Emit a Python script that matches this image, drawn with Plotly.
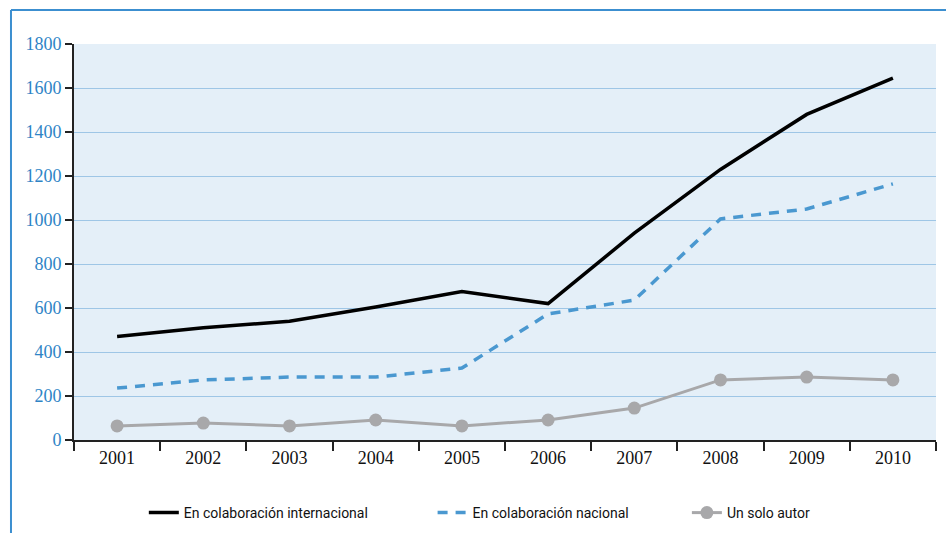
import plotly.graph_objects as go

years = ["2001", "2002", "2003", "2004", "2005", "2006", "2007", "2008", "2009", "2010"]
internacional = [470, 510, 540, 605, 675, 620, 940, 1230, 1480, 1645]
nacional = [236, 273, 286, 286, 327, 573, 636, 1005, 1050, 1164]
solo_autor = [64, 77, 64, 91, 64, 91, 145, 273, 286, 273]

names = ["En colaboración internacional", "En colaboración nacional", "Un solo autor"]
y_ticks = [0, 200, 400, 600, 800, 1000, 1200, 1400, 1600, 1800]

fig = go.Figure()
fig.add_trace(go.Scatter(
    x=years, y=internacional, name=names[0], mode="lines",
    line=dict(color="#000000", width=3.5), legend="legend"))
fig.add_trace(go.Scatter(
    x=years, y=nacional, name=names[1], mode="lines",
    line=dict(color="#4a98d0", width=3.5, dash="10px,8px"), legend="legend2"))
fig.add_trace(go.Scatter(
    x=years, y=solo_autor, name=names[2], mode="lines+markers",
    line=dict(color="#a8a8aa", width=3), marker=dict(size=13, color="#a8a8aa"),
    legend="legend3"))

serif = "Liberation Serif"
leg_font = dict(family="Roboto", size=14, color="#111111")
leg_common = dict(orientation="h", yref="container", yanchor="middle", y=0.0375,
                  xanchor="left", font=leg_font, bgcolor="rgba(0,0,0,0)")

fig.update_layout(
    width=946, height=533,
    margin=dict(l=74, r=10, t=44, b=93, autoexpand=False),
    paper_bgcolor="#ffffff",
    plot_bgcolor="#e4eff8",
    showlegend=True,
    legend=dict(x=0.081, **leg_common),
    legend2=dict(x=0.416, **leg_common),
    legend3=dict(x=0.711, **leg_common),
    xaxis=dict(
        type="category", tickson="boundaries",
        ticks="outside", ticklen=9, tickwidth=2, tickcolor="#222222",
        showline=True, linecolor="#222222", linewidth=2,
        showgrid=False, zeroline=False,
        tickfont=dict(family=serif, size=18, color="#111111"),
        range=[-0.5, 9.5],
    ),
    yaxis=dict(
        range=[0, 1800], tickvals=y_ticks,
        ticks="outside", ticklen=7, tickwidth=2, tickcolor="#222222",
        showline=True, linecolor="#222222", linewidth=2,
        showgrid=True, gridcolor="#9ec6e6", gridwidth=1.2,
        zeroline=False,
        tickfont=dict(family=serif, size=18, color="#2e84c6"),
    ),
    shapes=[
        dict(type="line", xref="paper", yref="paper",
             x0=-0.0731, x1=1.02, y0=1.0859, y1=1.0859,
             line=dict(color="#3c8fd0", width=2)),
        dict(type="line", xref="paper", yref="paper",
             x0=-0.0731, x1=-0.0731, y0=1.0859, y1=-0.24,
             line=dict(color="#3c8fd0", width=2)),
    ],
)

fig.write_html("out.html")
